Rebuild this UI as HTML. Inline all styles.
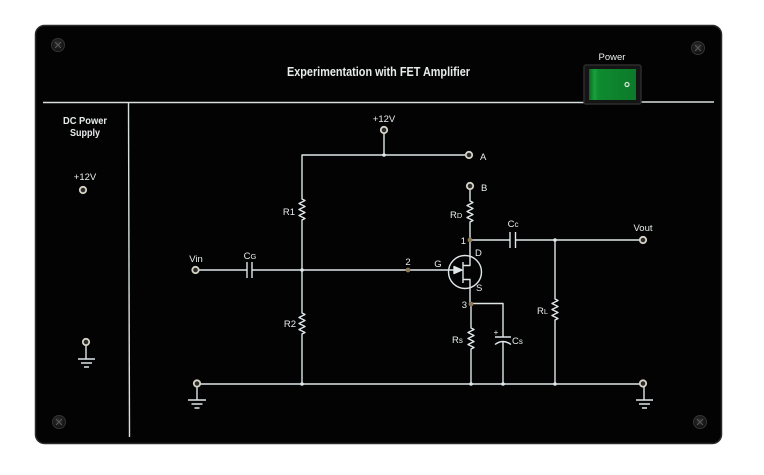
<!DOCTYPE html>
<html><head><meta charset="utf-8"><style>
html,body{margin:0;padding:0;background:#fff;}
svg{display:block;}
text{font-family:"Liberation Sans",Arial,sans-serif;fill:#e8ecec;}
</style></head><body>
<svg width="764" height="475" viewBox="0 0 764 475" xmlns="http://www.w3.org/2000/svg">
<defs>
<linearGradient id="grn" x1="0" y1="0" x2="1" y2="0">
<stop offset="0" stop-color="#0b6a22"/><stop offset="0.12" stop-color="#18a03c"/><stop offset="0.2" stop-color="#0f8a30"/><stop offset="1" stop-color="#0c7a2a"/>
</linearGradient>
<radialGradient id="scr" cx="0.45" cy="0.4" r="0.6">
<stop offset="0" stop-color="#2e2e2e"/><stop offset="1" stop-color="#0e0e0e"/>
</radialGradient>
</defs>
<rect x="0" y="0" width="764" height="475" fill="#fff"/>
<!-- panel -->
<rect x="35.5" y="25.5" width="686" height="418" rx="9" fill="#030303" stroke="#2a2a2a" stroke-width="1.5"/>
<!-- screws -->
<g stroke="#353535" stroke-width="1">
<circle cx="58" cy="45" r="6.5" fill="url(#scr)"/>
<circle cx="698" cy="48" r="6.5" fill="url(#scr)"/>
<circle cx="59" cy="422" r="6.5" fill="url(#scr)"/>
<circle cx="700" cy="422" r="6.5" fill="url(#scr)"/>
</g>
<g stroke="#5a5a5a" stroke-width="1">
<path d="M55,42 l6,6 M61,42 l-6,6"/><path d="M695,45 l6,6 M701,45 l-6,6"/><path d="M56,419 l6,6 M62,419 l-6,6"/><path d="M697,419 l6,6 M703,419 l-6,6"/>
</g>
<!-- title -->
<text x="378.5" y="76" font-size="12.5" font-weight="bold" text-anchor="middle" textLength="183" lengthAdjust="spacingAndGlyphs">Experimentation with FET Amplifier</text>
<!-- dividers -->
<g stroke="#d8dfe0" stroke-width="1.4" fill="none">
<path d="M43,102.5 H584 M641,102 H714"/>
<path d="M128.5,103 L129.5,437"/>
</g>
<!-- power switch -->
<text x="612" y="60" font-size="9.5" text-anchor="middle">Power</text>
<rect x="584" y="65" width="57" height="39" rx="2" fill="#151515" stroke="#2c2c2c" stroke-width="1.5"/>
<rect x="589" y="69" width="47" height="31" fill="url(#grn)"/>
<circle cx="627" cy="84.5" r="2" fill="none" stroke="#e0e8e0" stroke-width="1.2"/>
<!-- DC power supply -->
<text x="85" y="124" font-size="10" font-weight="bold" text-anchor="middle" textLength="44" lengthAdjust="spacingAndGlyphs">DC Power</text>
<text x="85" y="136" font-size="10" font-weight="bold" text-anchor="middle" textLength="30" lengthAdjust="spacingAndGlyphs">Supply</text>
<text x="85" y="180" font-size="9.5" text-anchor="middle">+12V</text>
<!-- wires -->
<g stroke="#dfe7e9" stroke-width="1.4" fill="none" stroke-linejoin="round">
<path d="M86,345 V359 M78,359 H95 M81,363 H92 M84,367 H89"/>
<path d="M384,133 V155 M301.5,155 H466"/>
<path d="M302,155 V199 L305,200.5 L299,203.5 L305,206.5 L299,209.5 L305,212.5 L299,215.5 L305,218.5 L302,220 V313 L305,314.5 L299,317.5 L305,320.5 L299,323.5 L305,326.5 L299,329.5 L305,332.5 L302,334 V384"/>
<path d="M198.5,270 H247 M247,262 V278 M252,262 V278 M252,270 H456"/>
<path d="M454,266.5 L462,270 L454,273.5 Z" fill="#dfe7e9"/>
<circle cx="465" cy="272" r="16.5"/>
<path d="M463,262 V283"/>
<path d="M463,265.5 H470 V240 M463,279.5 H470 V304"/>
<path d="M470,189.5 V201 L473,202.5 L467,205.5 L473,208.5 L467,211.5 L473,214.5 L467,217.5 L473,220.5 L470,222 V240"/>
<path d="M470,240 H510 M510,232 V248 M515.5,232 V248 M515.5,240 H639.5"/>
<path d="M555,240 V299 L558,300.5 L552,303.5 L558,306.5 L552,309.5 L558,312.5 L552,315.5 L558,318.5 L555,320 V384"/>
<path d="M471,304 V328 L474,329.5 L468,332.5 L474,335.5 L468,338.5 L474,341.5 L468,344.5 L474,347.5 L471,349 V384"/>
<path d="M471,303.5 H503 V337 M495,337 H511 M495,344.5 Q503,338.5 511,344.5 M503,341 V384"/>
<path d="M200.5,384 H639.5"/>
<path d="M197,387 V400 M188,400 H206 M191.5,404 H202.5 M194.5,408 H199.5"/>
<path d="M644,387 V400 M636,400 H653 M639,404 H650 M642,408 H647"/>
</g>
<g fill="#dfe7e9">
<circle cx="384" cy="155" r="1.8"/>
<circle cx="302" cy="270" r="1.8"/>
<circle cx="302" cy="384" r="1.8"/>
<circle cx="471" cy="384" r="1.8"/>
<circle cx="503" cy="384" r="1.8"/>
<circle cx="555" cy="384" r="1.8"/>
<circle cx="555" cy="240" r="1.8"/>
</g>
<g fill="#8a7858">
<circle cx="408" cy="270" r="2.4"/>
<circle cx="470" cy="240" r="2.4"/>
<circle cx="471" cy="304" r="2.4"/>
</g>
<g fill="#2a2a2a" stroke="#d6d2c6" stroke-width="1.8">
<circle cx="83" cy="190" r="3.2"/>
<circle cx="86" cy="342" r="3.2"/>
<circle cx="384" cy="130" r="3.2"/>
<circle cx="469" cy="155" r="3.2"/>
<circle cx="470" cy="186" r="3.2"/>
<circle cx="195.5" cy="270" r="3.2"/>
<circle cx="197" cy="383.5" r="3.2"/>
<circle cx="643" cy="240" r="3.2"/>
<circle cx="643" cy="383.5" r="3.2"/>
</g>
<g font-size="9.5">
<text x="384" y="122" text-anchor="middle">+12V</text>
<text x="480" y="160">A</text>
<text x="481" y="191">B</text>
<text x="295" y="215" text-anchor="end">R1</text>
<text x="450" y="218">R<tspan font-size="7.5">D</tspan></text>
<text x="513" y="227" text-anchor="middle">C<tspan font-size="8">c</tspan></text>
<text x="643" y="231" text-anchor="middle">Vout</text>
<text x="466" y="244" text-anchor="end">1</text>
<text x="475" y="256">D</text>
<text x="408" y="265" text-anchor="middle">2</text>
<text x="438" y="267" text-anchor="middle">G</text>
<text x="476" y="291">S</text>
<text x="467" y="308" text-anchor="end">3</text>
<text x="196" y="262" text-anchor="middle">Vin</text>
<text x="250" y="259" text-anchor="middle">C<tspan font-size="7.5">G</tspan></text>
<text x="296" y="327" text-anchor="end">R2</text>
<text x="452" y="343">R<tspan font-size="8">s</tspan></text>
<text x="537" y="314">R<tspan font-size="7.5">L</tspan></text>
<text x="496" y="335" text-anchor="middle" font-size="8">+</text>
<text x="512" y="344">C<tspan font-size="8">s</tspan></text>
</g>
</svg>
</body></html>
